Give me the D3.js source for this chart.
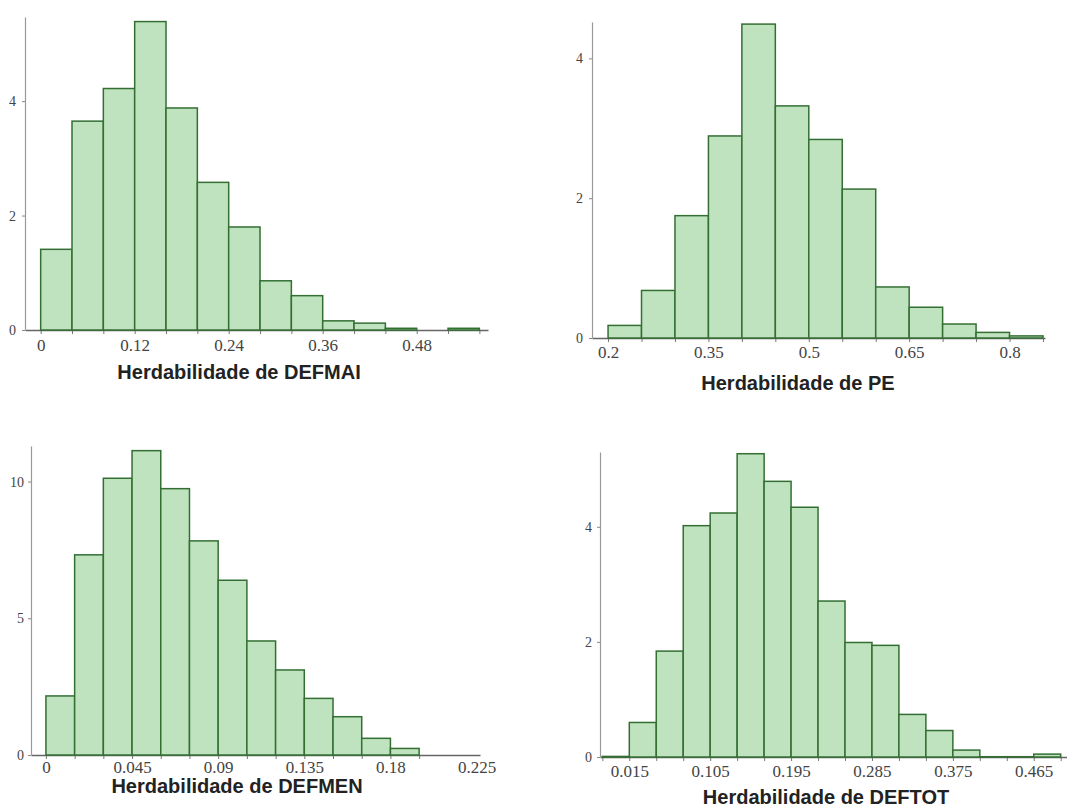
<!DOCTYPE html>
<html>
<head>
<meta charset="utf-8">
<script src="https://cdn.jsdelivr.net/npm/d3@7"></script>
<style>
  body { margin: 0; background: #fff; }
  .tick text { font-family: "Liberation Serif", serif; font-size: 17px; fill: #444; }
  .yaxis .tick text { font-size: 14px; }
  .title { font-family: "Liberation Sans", Arial, sans-serif; font-size: 20px; font-weight: bold; fill: #222; }
</style>
</head>
<body>
<script>
// bin edges and densities
const defmaiEdges = [0, 0.04, 0.08, 0.12, 0.16, 0.20, 0.24, 0.28, 0.32, 0.36, 0.40, 0.44, 0.48, 0.52, 0.56];
const defmaiDensity = [1.41, 3.65, 4.22, 5.39, 3.88, 2.58, 1.80, 0.86, 0.60, 0.16, 0.12, 0.03, 0, 0.03];
const defmaiTicks = [0, 0.12, 0.24, 0.36, 0.48];
const defmaiYTicks = [0, 2, 4];

const peEdges = [0.20, 0.25, 0.30, 0.35, 0.40, 0.45, 0.50, 0.55, 0.60, 0.65, 0.70, 0.75, 0.80, 0.85];
const peDensity = [0.18, 0.68, 1.75, 2.89, 4.49, 3.32, 2.84, 2.13, 0.73, 0.44, 0.20, 0.08, 0.03];
const peTicks = [0.2, 0.35, 0.5, 0.65, 0.8];
const peYTicks = [0, 2, 4];

const defmenEdges = [0, 0.015, 0.03, 0.045, 0.06, 0.075, 0.09, 0.105, 0.12, 0.135, 0.15, 0.165, 0.18, 0.195];
const defmenDensity = [2.16, 7.32, 10.12, 11.13, 9.74, 7.83, 6.39, 4.17, 3.11, 2.07, 1.40, 0.61, 0.24];
const defmenTicks = [0, 0.045, 0.09, 0.135, 0.18, 0.225];
const defmenYTicks = [0, 5, 10];

const deftotEdges = [-0.015, 0.015, 0.045, 0.075, 0.105, 0.135, 0.165, 0.195, 0.225, 0.255, 0.285, 0.315, 0.345, 0.375, 0.405, 0.435, 0.465, 0.495];
const deftotDensity = [0.01, 0.60, 1.84, 4.02, 4.24, 5.27, 4.79, 4.34, 2.71, 1.99, 1.94, 0.74, 0.46, 0.12, 0.005, 0.005, 0.05];
const deftotTicks = [0.015, 0.105, 0.195, 0.285, 0.375, 0.465];
const deftotYTicks = [0, 2, 4];

const svg = d3.select("body").append("svg")
  .attr("width", 1067)
  .attr("height", 807);

const panels = [
  { name: "DEFMAI", edges: defmaiEdges, dens: defmaiDensity, ticks: defmaiTicks, yTicks: defmaiYTicks,
    xDom: [-0.02, 0.571], xRange: [25, 488], yMax: 5.47, yRange: [330, 17], labelPad: 9, yPad: 6,
    titleX: 239, titleY: 379 },
  { name: "PE", edges: peEdges, dens: peDensity, ticks: peTicks, yTicks: peYTicks,
    xDom: [0.176, 0.853], xRange: [592, 1045], yMax: 4.52, yRange: [338, 22], labelPad: 8, yPad: 6,
    titleX: 798, titleY: 390 },
  { name: "DEFMEN", edges: defmenEdges, dens: defmenDensity, ticks: defmenTicks, yTicks: defmenYTicks,
    xDom: [-0.0078, 0.2268], xRange: [31, 480], yMax: 11.3, yRange: [755, 446], labelPad: 6, yPad: 4,
    titleX: 237, titleY: 793 },
  { name: "DEFTOT", edges: deftotEdges, dens: deftotDensity, ticks: deftotTicks, yTicks: deftotYTicks,
    xDom: [-0.0176, 0.502], xRange: [600, 1067], yMax: 5.3, yRange: [757, 452], labelPad: 8, yPad: 5,
    titleX: 826, titleY: 804 }
];

panels.forEach(p => {
  const x = d3.scaleLinear().domain(p.xDom).range(p.xRange);
  const y = d3.scaleLinear().domain([0, p.yMax]).range(p.yRange);
  const g = svg.append("g");
  const base = p.yRange[0];

  const bins = p.dens.map((d, i) => ({ x0: p.edges[i], x1: p.edges[i + 1], v: d }));

  // minor ticks at bin edges
  g.append("g")
    .attr("transform", `translate(0,${base})`)
    .call(d3.axisBottom(x).tickValues(p.edges).tickSize(4).tickFormat(""))
    .call(a => a.select(".domain").remove())
    .call(a => a.selectAll("line").attr("stroke", "#777"));

  // x axis with labels
  g.append("g")
    .attr("transform", `translate(0,${base})`)
    .call(d3.axisBottom(x).tickValues(p.ticks).tickSize(0).tickPadding(p.labelPad)
      .tickFormat(d => String(+d.toFixed(3))))
    .call(a => a.select(".domain").attr("stroke", "#666").attr("stroke-width", 1.5));

  // y axis
  g.append("g")
    .attr("class", "yaxis")
    .attr("transform", `translate(${p.xRange[0]},0)`)
    .call(d3.axisLeft(y).tickValues(p.yTicks).tickSize(3).tickPadding(p.yPad).tickSizeOuter(0)
      .tickFormat(d3.format("d")))
    .call(a => a.select(".domain").attr("stroke", "#999").attr("stroke-width", 1.2))
    .call(a => a.selectAll("line").attr("stroke", "#888"));

  // bars
  g.append("g").selectAll("rect")
    .data(bins)
    .join("rect")
    .attr("x", d => x(d.x0))
    .attr("y", d => y(d.v))
    .attr("width", d => x(d.x1) - x(d.x0))
    .attr("height", d => base - y(d.v))
    .attr("fill", "#bfe3bf")
    .attr("stroke", "#336f33")
    .attr("stroke-width", 1.5);

  // axis title
  g.append("text")
    .attr("class", "title")
    .attr("x", p.titleX)
    .attr("y", p.titleY)
    .attr("text-anchor", "middle")
    .text("Herdabilidade de " + p.name);
});
</script>
</body>
</html>
